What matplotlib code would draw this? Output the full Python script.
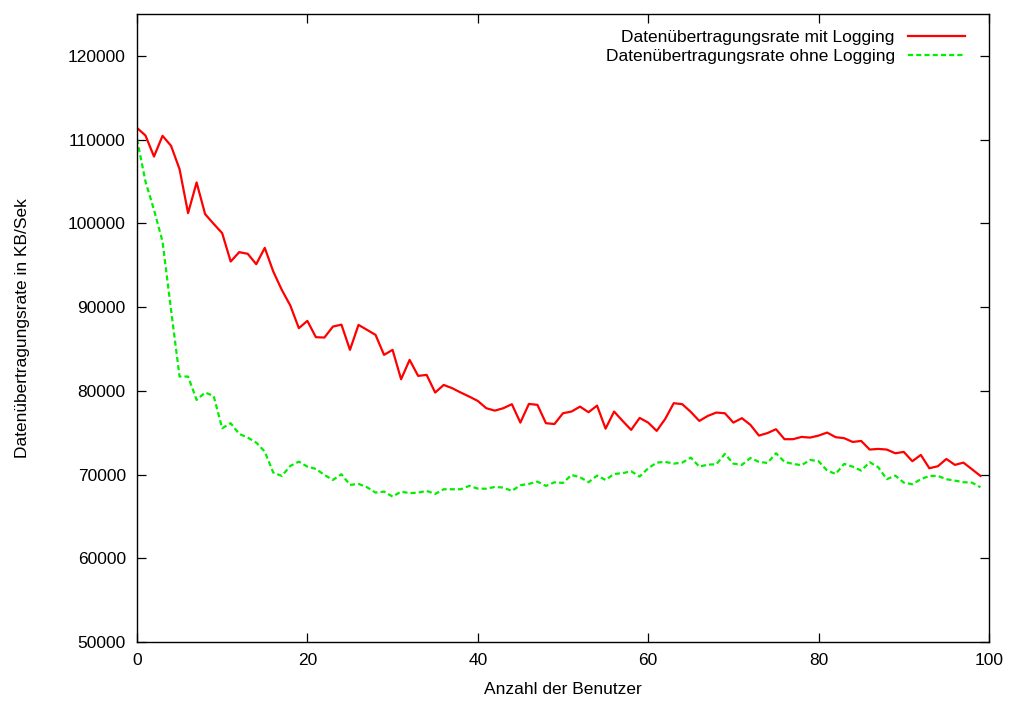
import matplotlib
matplotlib.use("Agg")
import matplotlib.pyplot as plt
from matplotlib.ticker import MultipleLocator

plt.rcParams['font.family'] = ['Liberation Sans', 'DejaVu Sans']

users = list(range(100))

rate_with_logging = [
    111400, 110490, 107980, 110450, 109260, 106470, 101220, 104880, 101100, 99940,
    98830, 95440, 96560, 96360, 95120, 97070, 94240, 92050, 90180, 87480,
    88350, 86400, 86360, 87670, 87900, 84890, 87870, 87280, 86680, 84290,
    84890, 81380, 83690, 81780, 81900, 79790, 80700, 80310, 79790, 79310,
    78790, 77920, 77630, 77920, 78400, 76200, 78430, 78320, 76130, 76030,
    77320, 77520, 78110, 77440, 78230, 75480, 77520, 76400, 75330, 76760,
    76200, 75210, 76640, 78520, 78400, 77480, 76400, 77000, 77400, 77320,
    76200, 76730, 75930, 74650, 74950, 75410, 74220, 74220, 74490, 74410,
    74650, 75010, 74460, 74340, 73890, 74010, 72980, 73060, 72980, 72540,
    72700, 71590, 72340, 70750, 70990, 71860, 71150, 71420, 70630, 69830,
]

rate_without_logging = [
    110060, 105000, 101610, 97830, 89670, 81700, 81700, 78910, 79790, 79390,
    75530, 76130, 74850, 74410, 73810, 72740, 70230, 69830, 71030, 71540,
    70940, 70670, 69950, 69350, 70030, 68760, 68880, 68480, 67840, 67960,
    67360, 67960, 67770, 67840, 68040, 67680, 68240, 68240, 68240, 68640,
    68320, 68300, 68520, 68440, 68040, 68720, 68880, 69150, 68640, 69070,
    69000, 69950, 69680, 69080, 69870, 69350, 70070, 70160, 70390, 69750,
    70750, 71420, 71510, 71300, 71420, 72020, 70940, 71180, 71220, 72460,
    71300, 71150, 71980, 71510, 71380, 72540, 71510, 71270, 71110, 71740,
    71590, 70470, 70070, 71270, 70940, 70470, 71470, 70870, 69440, 69870,
    69030, 68840, 69440, 69830, 69830, 69440, 69270, 69080, 69030, 68480,
]

label_with = "Datenübertragungsrate mit Logging"
label_without = "Datenübertragungsrate ohne Logging"

fig = plt.figure(figsize=(10.13, 7.04), dpi=100)
ax = fig.add_axes([0.1352, 0.0881, 0.8411, 0.8920])

ax.plot(users, rate_with_logging, color='#ff0000', lw=1.6, label=label_with)
ax.plot(users, rate_without_logging, color='#00ee00', lw=1.6,
        dashes=(2.3, 1.4), label=label_without)

ax.set_xlim(0, 100)
ax.set_ylim(50000, 125000)
ax.xaxis.set_major_locator(MultipleLocator(20))
ax.set_yticks(range(50000, 120001, 10000))

ax.tick_params(direction='in', length=6.5, width=0.9, top=True, right=True,
               labelsize=12.5, pad=8, colors='black')
for s in ax.spines.values():
    s.set_linewidth(1.0)

ax.set_xlabel("Anzahl der Benutzer", fontsize=12.5, labelpad=10)
ax.set_ylabel("Datenübertragungsrate in KB/Sek", fontsize=12.5, labelpad=27)

leg = ax.legend(loc='upper right', frameon=False, markerfirst=False,
                fontsize=12.5, handlelength=3.3, handletextpad=0.75,
                labelspacing=0.22, borderaxespad=0, borderpad=0,
                bbox_to_anchor=(0.972, 0.975))
for t in leg.get_texts():
    t.set_ha('right')

fig.savefig("out.png", dpi=100)
